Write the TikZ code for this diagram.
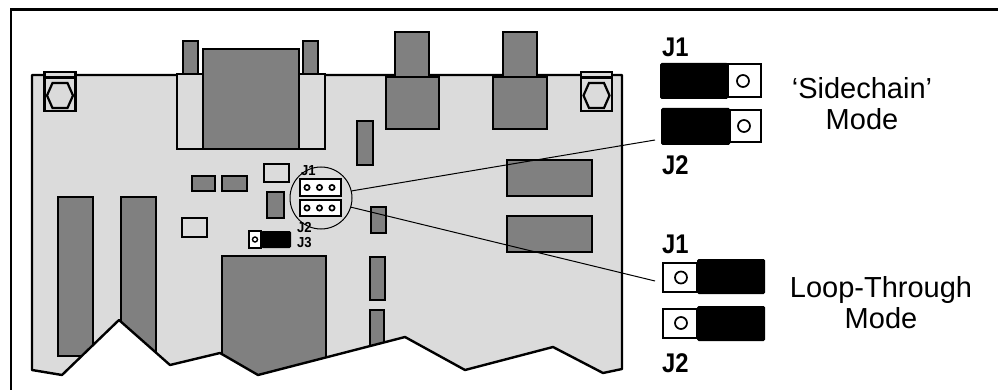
\documentclass[tikz,border=0pt]{standalone}
\usepackage{fontspec}
\setmainfont{Liberation Sans}
\def\mountbracket(#1){%
	\begin{scope}[shift={(#1)}]
		\draw[line width=2.2pt, fill=black!14] (-15.5,-23.5) rectangle (15.5,15.5);
		\draw[line width=2.2pt] (-15.5,-18) -- (15.5,-18);
		\draw[line width=2.2pt] (-7.5,-12.5) -- (7.5,-12.5) -- (13,0) -- (7.5,12.5) -- (-7.5,12.5) -- (-13,0) -- cycle;
	\end{scope}}

\begin{document}
\begin{tikzpicture}[x=1pt, y=-1pt,
	board/.style={fill=black!14},
	outline/.style={line width=2.4pt, line join=round},
	part/.style={draw, fill=black!50, line width=2.2pt},
	blank/.style={draw, fill=white, line width=2.1pt},
	shunt/.style={fill=black, rounded corners=1.5pt},
	pin/.style={draw, line width=1.7pt},
	bigtag/.style={font=\bfseries\fontsize{27}{27}\selectfont, xscale=0.88, inner sep=0pt, anchor=base west},
	smalltag/.style={font=\bfseries\fontsize{14.5}{15}\selectfont, xscale=0.9, inner sep=0pt, anchor=base west},
	mode/.style={font=\fontsize{29}{31}\selectfont, inner sep=0pt, anchor=base}]
			%%%%% START %%%%%
			\useasboundingbox (0,0) rectangle (998,390);
			
			\begin{scope}
				\clip (32,75) -- (622,75) -- (622,369) -- (603,373) -- (553,347) -- (465,370) -- (405,337) -- (258,375) -- (220,353) -- (170,365) -- (119,320) -- (62,375) -- (32,370) -- cycle;
				\fill[board] (0,0) rectangle (998,390);
				\draw[part] (58,197) rectangle (93,356);
				\draw[part] (121,197) rectangle (156,400);
				\draw[part] (222,256) rectangle (326,400);
				\draw[part] (370,310) rectangle (384,400);
			\end{scope}
			\draw[outline] (32,75) -- (622,75) -- (622,369) -- (603,373) -- (553,347) -- (465,370) -- (405,337) -- (258,375) -- (220,353) -- (170,365) -- (119,320) -- (62,375) -- (32,370) -- cycle;
			
			\draw[part] (183,41) rectangle (198,74);
			\draw[part] (303,41) rectangle (318,74);
			\draw[board, line width=2.2pt] (177,74) rectangle (325,149);
			\draw[part] (203,49) rectangle (299,149);
			
			\draw[part] (395,32) rectangle (429,77);
			\draw[part] (386,77) rectangle (439,129);
			\draw[part] (503,32) rectangle (537,77);
			\draw[part] (493,77) rectangle (547,129);
			
			\mountbracket(60,95.5)
			\mountbracket(596.5,95.5)
			
			\draw[part] (357,121) rectangle (373,165);
			\draw[part] (507,160) rectangle (592,196);
			\draw[part] (507,216) rectangle (592,252);
			\draw[part] (192,176) rectangle (215,191);
			\draw[part] (222,176) rectangle (247,191);
			\draw[part] (267,192) rectangle (284,218);
			\draw[part] (371,207) rectangle (386,233);
			\draw[part] (370,257) rectangle (385,300);
			\draw[board, line width=2.2pt] (264,164) rectangle (289,182);
			\draw[board, line width=2.2pt] (182,218) rectangle (207,237);
			
			\draw[blank, line width=1.7pt] (249,231) rectangle (261,248);
			\fill[shunt] (261,231) rectangle (291,248);
			\draw[line width=1.4pt] (255,239.5) circle (2.5);
			
			\draw[blank] (300,179) rectangle (341,196);
			\draw[pin] (307,187.5) circle (2.6);
			\draw[pin] (319.5,187.5) circle (2.6);
			\draw[pin] (332,187.5) circle (2.6);
			\draw[blank] (300,200) rectangle (341,216);
			\draw[pin] (307,208) circle (2.6);
			\draw[pin] (319.5,208) circle (2.6);
			\draw[pin] (332,208) circle (2.6);
			
			\node[smalltag] (hdrone) at (301,176) {J1};
			\node[smalltag] (hdrtwo) at (297,232) {J2};
			\node[smalltag] (hdrthree) at (297,247) {J3};
			
			\node[draw, circle, line width=1pt, minimum size=62pt, inner sep=0pt] (lens) at (321,198) {};
			
			% 'Sidechain' jumpers
			\fill[shunt] (660,63) rectangle (728,99);
			\draw[blank] (728,64) rectangle (761,97);
			\draw[pin] (743,81) circle (6);
			\fill[shunt] (661,108) rectangle (730,145);
			\draw[blank] (730,110) rectangle (761,142);
			\draw[pin] (744,126) circle (6);
			\coordinate (scjtwo) at (655,140);
			
			% Loop-Through jumpers
			\draw[blank] (663,263) rectangle (697,292);
			\fill[shunt] (697,259) rectangle (765,294);
			\draw[pin] (681,277.5) circle (6);
			\draw[blank] (663,309) rectangle (697,338);
			\fill[shunt] (697,306) rectangle (765,341);
			\draw[pin] (681,323) circle (6);
			\coordinate (ltjone) at (655,281);
			
			\draw[line width=1pt] (lens.13) -- (scjtwo);
			\draw[line width=1pt] (lens.-17) -- (ltjone);
			
			\node[bigtag] (scone) at (662,57) {J1};
			\node[bigtag] (sctwo) at (662,175) {J2};
			\node[bigtag] (ltone) at (662,253) {J1};
			\node[bigtag] (lttwo) at (662,372) {J2};
			
			\node[mode] (sclabel) at (862,99) {`Sidechain'};
			\node[mode] (scmode) at (862,130) {Mode};
			\node[mode] (ltlabel) at (881,297) {Loop-Through};
			\node[mode] (ltmode) at (881,328) {Mode};
			
			\draw[line width=2.7pt] (11,392) -- (11,9.7) -- (1000,9.7);
			%%%%% END %%%%%
\end{tikzpicture}
\end{document}
